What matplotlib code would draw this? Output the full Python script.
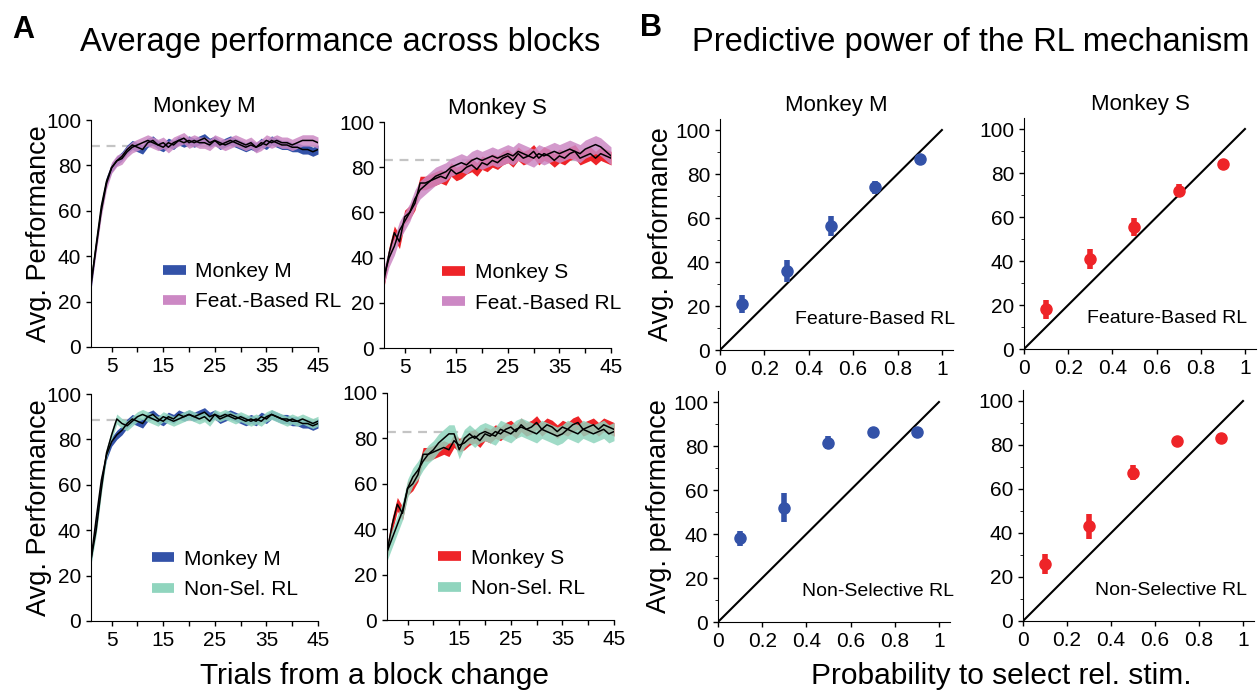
import matplotlib
matplotlib.use('Agg')
import matplotlib.pyplot as plt
from matplotlib.lines import Line2D
import numpy as np

plt.rcParams['font.family'] = ['Liberation Sans', 'DejaVu Sans']

# ---- panel A data: average performance vs trials from block change ----
trials = list(range(1, 46))

monkey_m = [27, 45, 62, 73, 79, 82, 84, 87, 89, 88, 87, 90, 91, 89, 88, 90, 89, 91, 90, 91,
            90, 91, 92, 90, 91, 89, 90, 91, 90, 89, 88, 89, 88, 90, 89, 91, 90, 89, 89, 88,
            88, 87, 87, 86, 87]
feat_m = [28, 44, 60, 72, 79, 82, 83, 86, 88, 89, 90, 91, 90, 89, 90, 88, 90, 91, 92, 90,
          91, 90, 90, 89, 91, 90, 89, 90, 91, 90, 89, 90, 88, 89, 91, 90, 91, 90, 90, 89,
          90, 91, 91, 91, 90]
nonsel_m = [27, 40, 58, 74, 82, 89, 87, 86, 88, 90, 91, 90, 89, 88, 90, 89, 88, 89, 90, 91,
            90, 89, 90, 88, 91, 90, 91, 90, 89, 90, 89, 88, 89, 88, 90, 91, 90, 89, 88, 89,
            88, 89, 88, 87, 88]
monkey_s = [30, 42, 51, 47, 58, 60, 64, 73, 73, 74, 75, 76, 75, 79, 77, 78, 80, 81, 79, 82,
            81, 83, 82, 84, 85, 83, 86, 84, 85, 87, 84, 86, 85, 83, 85, 84, 86, 87, 84, 85,
            86, 84, 86, 85, 84]
feat_s = [32, 40, 45, 52, 56, 60, 66, 70, 72, 74, 76, 77, 78, 80, 81, 82, 81, 83, 84, 83,
          84, 85, 84, 85, 86, 85, 87, 86, 85, 84, 86, 85, 86, 87, 86, 87, 88, 87, 86, 88,
          89, 90, 89, 87, 85]
nonsel_s = [30, 36, 42, 48, 58, 63, 66, 70, 73, 75, 78, 80, 82, 82, 75, 80, 82, 80, 82, 83,
            82, 81, 84, 83, 82, 84, 85, 84, 83, 82, 84, 83, 82, 81, 82, 84, 83, 82, 84, 83,
            82, 83, 84, 82, 83]
sem = {'monkey_m': 2.0, 'feat_m': 2.5, 'nonsel_m': 2.2,
       'monkey_s': 3.0, 'feat_s': 4.0, 'nonsel_s': 4.0}
asymptote_m = 88.5
asymptote_s = 83

# ---- panel B data: performance vs probability to select relevant stimulus ----
prob = [0.1, 0.3, 0.5, 0.7, 0.9]
feat_pts_m = [21, 36, 56.5, 74, 87]
feat_err_m = [4, 5, 4.5, 3, 1]
feat_pts_s = [18, 41, 55.5, 72, 84]
feat_err_s = [4.5, 4.5, 4, 3, 1]
nonsel_pts_m = [38, 52, 81.5, 86.5, 86.5]
nonsel_err_m = [3.5, 6.5, 3, 1, 1]
nonsel_pts_s = [26, 43, 67.5, 82, 83]
nonsel_err_s = [4.5, 5.5, 3.5, 1, 1]

BLUE = '#3352A8'
RED = '#EE2428'
PINK = '#CC88C4'
GREEN = '#90D5BE'

W, H = 1260, 691
fig = plt.figure(figsize=(W / 100, H / 100), dpi=100)


def px_axes(left, top, right, bottom):
    return fig.add_axes([left / W, 1 - bottom / H, (right - left) / W, (bottom - top) / H])


def style(ax):
    for s in ['top', 'right']:
        ax.spines[s].set_visible(False)
    ax.tick_params(labelsize=15, length=3.5, width=1, direction='out')


def learning_panel(ax, data, data_sem, data_col, model, model_sem, model_col,
                   asym, labels, leg_xy, title=None, ylabel=True):
    x = np.array(trials)
    d = np.array(data)
    m = np.array(model)
    ax.fill_between(x, d - data_sem, d + data_sem, color=data_col, lw=0)
    ax.fill_between(x, m - model_sem, m + model_sem, color=model_col, lw=0, alpha=0.85)
    ax.plot(x, d, color='black', lw=1.1)
    ax.plot(x, m, color='black', lw=1.1)
    ax.axhline(asym, color='#c4c4c4', ls=(0, (4, 3)), lw=1.6, zorder=0)
    ax.set_xlim(1, 45)
    ax.set_ylim(0, 100)
    ax.set_xticks(range(5, 46, 5))
    ax.set_xticklabels([str(v) if v % 10 == 5 else '' for v in range(5, 46, 5)])
    ax.set_yticks(range(0, 101, 20))
    style(ax)
    if title:
        ax.set_title(title, fontsize=16, pad=6)
    if ylabel:
        ax.set_ylabel('Avg. Performance', fontsize=19.5, labelpad=-4)
    handles = [Line2D([], [], color=data_col, lw=7, solid_capstyle='butt'),
               Line2D([], [], color=model_col, lw=7, solid_capstyle='butt')]
    ax.legend(handles, labels, loc='lower left', bbox_to_anchor=leg_xy,
              frameon=False, fontsize=15, handlelength=1.1, handletextpad=0.45,
              labelspacing=0.55, borderaxespad=0)


def scatter_panel(ax, pts, err, col, label, label_x, title=None, ylabel=True):
    ax.plot([0, 1], [0, 100], color='black', lw=1.5, zorder=1)
    ax.errorbar(prob, pts, yerr=err, fmt='o', color=col, ms=8, elinewidth=4,
                capsize=0, zorder=3)
    ax.set_xlim(0, 1.05)
    ax.set_ylim(0, 105)
    ax.set_xticks([0, 0.2, 0.4, 0.6, 0.8, 1])
    ax.set_xticklabels(['0', '0.2', '0.4', '0.6', '0.8', '1'])
    ax.set_yticks(range(0, 101, 20))
    ax.set_yticks(range(10, 100, 20), minor=True)
    style(ax)
    ax.tick_params(which='minor', length=2.5)
    ax.text(label_x, 14, label, ha='right', va='center', fontsize=14, clip_on=False)
    if title:
        ax.set_title(title, fontsize=16, pad=6)
    if ylabel:
        ax.set_ylabel('Avg. performance', fontsize=19.5, labelpad=1)


# panel A
ax = px_axes(91, 120, 318, 347)
learning_panel(ax, monkey_m, sem['monkey_m'], BLUE, feat_m, sem['feat_m'], PINK,
               asymptote_m, ['Monkey M', 'Feat.-Based RL'], (0.28, 0.12), title='Monkey M')
ax = px_axes(384, 122, 611, 348)
learning_panel(ax, monkey_s, sem['monkey_s'], RED, feat_s, sem['feat_s'], PINK,
               asymptote_s, ['Monkey S', 'Feat.-Based RL'], (0.22, 0.12), title='Monkey S',
               ylabel=False)
ax = px_axes(91, 394, 318, 621)
learning_panel(ax, monkey_m, sem['monkey_m'], BLUE, nonsel_m, sem['nonsel_m'], GREEN,
               asymptote_m, ['Monkey M', 'Non-Sel. RL'], (0.23, 0.06))
ax = px_axes(387, 393, 614, 620)
learning_panel(ax, monkey_s, sem['monkey_s'], RED, nonsel_s, sem['nonsel_s'], GREEN,
               asymptote_s, ['Monkey S', 'Non-Sel. RL'], (0.19, 0.06), ylabel=False)

# panel B
ax = px_axes(720, 119, 953, 350)
scatter_panel(ax, feat_pts_m, feat_err_m, BLUE, 'Feature-Based RL', 1.06, title='Monkey M')
ax = px_axes(1024, 118, 1256, 349)
scatter_panel(ax, feat_pts_s, feat_err_s, RED, 'Feature-Based RL', 1.01, title='Monkey S',
              ylabel=False)
ax = px_axes(718, 391, 950, 622)
scatter_panel(ax, nonsel_pts_m, nonsel_err_m, BLUE, 'Non-Selective RL', 1.07)
ax = px_axes(1023, 390, 1254, 621)
scatter_panel(ax, nonsel_pts_s, nonsel_err_s, RED, 'Non-Selective RL', 1.02, ylabel=False)

fig.text(12 / W, 1 - 30 / H, 'A', fontsize=22, fontweight='bold', ha='left', va='center')
fig.text(640 / W, 1 - 28 / H, 'B', fontsize=22, fontweight='bold', ha='left', va='center')
fig.text(340 / W, 1 - 43 / H, 'Average performance across blocks', fontsize=23.5,
         ha='center', va='center')
fig.text(971 / W, 1 - 43 / H, 'Predictive power of the RL mechanism', fontsize=23.5,
         ha='center', va='center')
fig.text(375 / W, 1 - 676 / H, 'Trials from a block change', fontsize=21.5,
         ha='center', va='center')
fig.text(1001 / W, 1 - 676 / H, 'Probability to select rel. stim.', fontsize=21.5,
         ha='center', va='center')

fig.savefig('out.png', dpi=100)
